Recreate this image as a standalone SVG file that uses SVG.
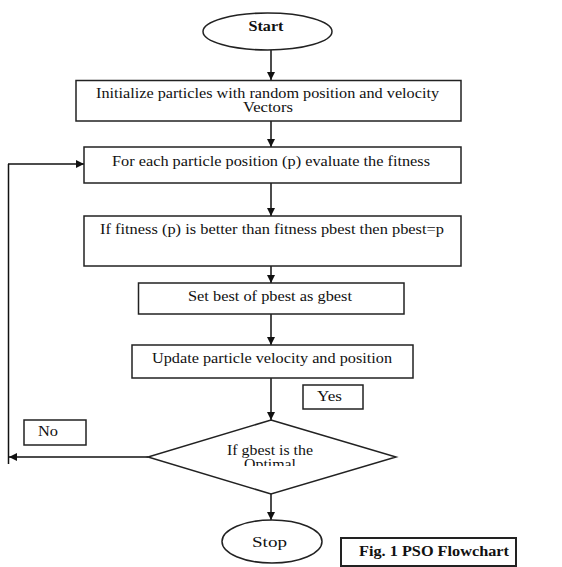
<svg xmlns="http://www.w3.org/2000/svg" width="562" height="567" viewBox="0 0 562 567">
<style>
.box{fill:#fff;stroke:#222;stroke-width:1.5}
.t{font-family:"Liberation Serif","Times New Roman",serif;font-size:14px;fill:#111}
.b{font-weight:bold}
.c{stroke:#111;stroke-width:1.5;fill:none}
</style>
<defs>
<marker id="ah" viewBox="0 0 10 10" refX="10" refY="5" markerWidth="8" markerHeight="8" markerUnits="userSpaceOnUse" orient="auto">
<path d="M0,0L10,5L0,10z" fill="#111"/>
</marker>
<clipPath id="dclip"><rect x="150" y="420" width="250" height="46"/></clipPath>
</defs>
<rect width="562" height="567" fill="#fff"/>
<g id="connectors">
<line class="c" x1="271" y1="50" x2="271" y2="80" marker-end="url(#ah)"/>
<line class="c" x1="271" y1="121" x2="271" y2="147" marker-end="url(#ah)"/>
<line class="c" x1="271" y1="183" x2="271" y2="216" marker-end="url(#ah)"/>
<line class="c" x1="271" y1="266" x2="271" y2="283" marker-end="url(#ah)"/>
<line class="c" x1="271" y1="314" x2="271" y2="345" marker-end="url(#ah)"/>
<line class="c" x1="271" y1="378" x2="271" y2="420" marker-end="url(#ah)"/>
<line class="c" x1="271" y1="494" x2="271" y2="520" marker-end="url(#ah)"/>
<line class="c" x1="148" y1="457" x2="9" y2="457" marker-end="url(#ah)"/>
<line class="c" x1="8.5" y1="464" x2="8.5" y2="164"/>
<line class="c" x1="8" y1="164" x2="84" y2="164" marker-end="url(#ah)"/>
</g>
<g id="start">
<ellipse class="box" cx="267.5" cy="31.5" rx="64.5" ry="18.5"/>
<text class="t b" x="266" y="31" text-anchor="middle" textLength="35" lengthAdjust="spacingAndGlyphs">Start</text>
</g>
<g id="init">
<rect class="box" x="76" y="80.5" width="385" height="40.5"/>
<text class="t" x="96" y="98" textLength="343" lengthAdjust="spacingAndGlyphs">Initialize  particles with random position and velocity</text>
<text class="t" x="243" y="112" textLength="50" lengthAdjust="spacingAndGlyphs">Vectors</text>
</g>
<g id="evaluate">
<rect class="box" x="84" y="147" width="377" height="36"/>
<text class="t" x="112" y="166" textLength="318" lengthAdjust="spacingAndGlyphs">For each particle  position  (p) evaluate  the  fitness</text>
</g>
<g id="pbest">
<rect class="box" x="84" y="216" width="377" height="50"/>
<text class="t" x="100" y="234" textLength="344" lengthAdjust="spacingAndGlyphs">If fitness (p) is better  than fitness pbest then pbest=p</text>
</g>
<g id="gbest">
<rect class="box" x="138.5" y="283" width="265.5" height="31"/>
<text class="t" x="188" y="301" textLength="164" lengthAdjust="spacingAndGlyphs">Set best of pbest as gbest</text>
</g>
<g id="update">
<rect class="box" x="132" y="345" width="281" height="33"/>
<text class="t" x="152" y="363" textLength="240" lengthAdjust="spacingAndGlyphs">Update particle  velocity and  position</text>
</g>
<g id="yes">
<rect class="box" x="303" y="385" width="60" height="24"/>
<text class="t" x="317" y="401" textLength="25" lengthAdjust="spacingAndGlyphs">Yes</text>
</g>
<g id="no">
<rect class="box" x="24" y="420" width="62" height="25"/>
<text class="t" x="38" y="436" textLength="20" lengthAdjust="spacingAndGlyphs">No</text>
</g>
<g id="decision">
<polygon class="box" points="271,420 396,457 271,494 148,457"/>
<text class="t" x="227" y="455" textLength="86" lengthAdjust="spacingAndGlyphs">If gbest is the</text>
<text class="t" x="244" y="469" textLength="52" lengthAdjust="spacingAndGlyphs" clip-path="url(#dclip)">Optimal</text>
</g>
<g id="stop">
<ellipse class="box" cx="272" cy="541.5" rx="50" ry="21.5"/>
<text class="t" x="252" y="547" textLength="35" lengthAdjust="spacingAndGlyphs">Stop</text>
</g>
<g id="caption">
<rect x="341" y="538" width="175" height="28" fill="#fff" stroke="#222" stroke-width="2"/>
<text class="t b" x="359" y="556" textLength="150" lengthAdjust="spacingAndGlyphs">Fig. 1 PSO Flowchart</text>
</g>
</svg>
